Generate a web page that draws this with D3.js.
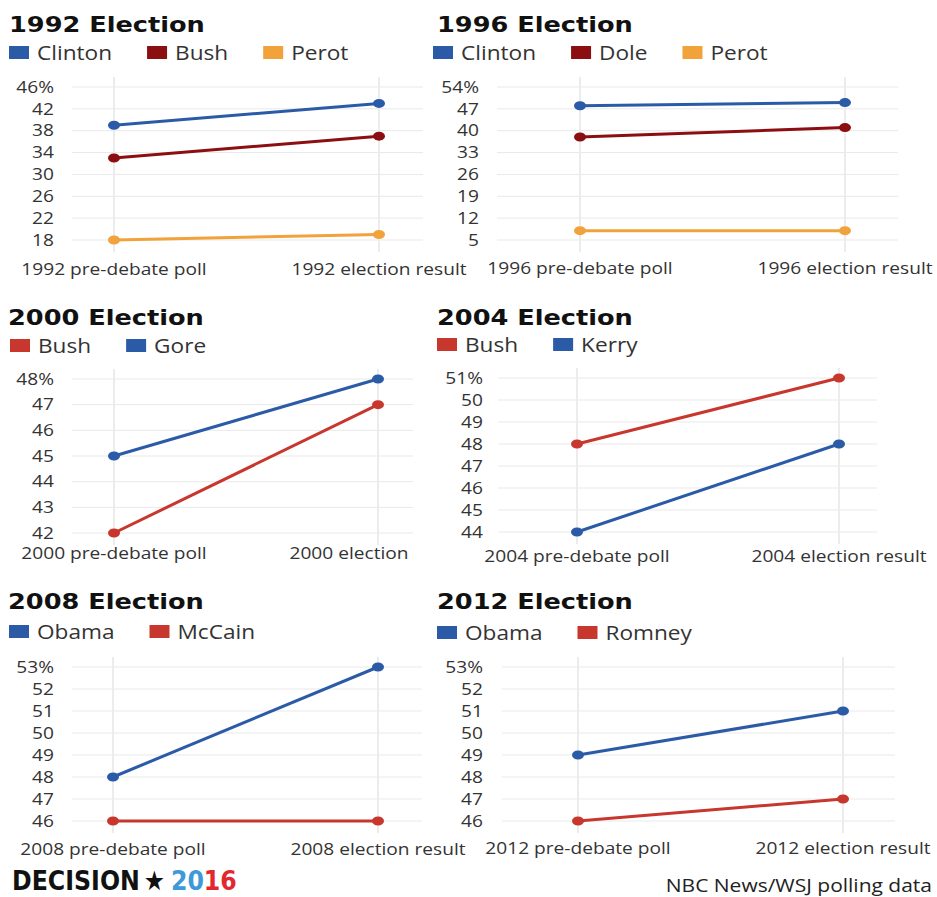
<!DOCTYPE html>
<html>
<head>
<meta charset="utf-8">
<script src="https://cdn.jsdelivr.net/npm/d3@7"></script>
<style>
body { margin: 0; background: #fff; }
svg { display: block; }
.title { font-family: "DejaVu Sans"; font-weight: bold; font-size: 20.5px; fill: #111; }
.legend { font-family: "Open Sans"; font-size: 19.5px; fill: #333; }
.ytick { font-family: "Open Sans"; font-size: 16.5px; fill: #333; }
.xlabel { font-family: "Open Sans"; font-size: 16.5px; fill: #333; }
.source { font-family: "Open Sans"; font-size: 17.5px; fill: #222; }
.logo { font-family: "DejaVu Sans", sans-serif; font-stretch: condensed; font-weight: bold; font-size: 27px; }
</style>
</head>
<body>
<svg width="937" height="897"></svg>
<script>

// ---- data ----
var titles = ["1992 Election", "1996 Election", "2000 Election", "2004 Election", "2008 Election", "2012 Election"];

var candidates1992 = ["Clinton", "Bush", "Perot"];
var poll1992 = [39, 33, 18];
var result1992 = [43, 37, 19];
var yTicks1992 = [18, 22, 26, 30, 34, 38, 42, 46];
var xLabels1992 = ["1992 pre-debate poll", "1992 election result"];

var candidates1996 = ["Clinton", "Dole", "Perot"];
var poll1996 = [48, 38, 8];
var result1996 = [49, 41, 8];
var yTicks1996 = [5, 12, 19, 26, 33, 40, 47, 54];
var xLabels1996 = ["1996 pre-debate poll", "1996 election result"];

var candidates2000 = ["Bush", "Gore"];
var poll2000 = [42, 45];
var result2000 = [47, 48];
var yTicks2000 = [42, 43, 44, 45, 46, 47, 48];
var xLabels2000 = ["2000 pre-debate poll", "2000 election"];

var candidates2004 = ["Bush", "Kerry"];
var poll2004 = [48, 44];
var result2004 = [51, 48];
var yTicks2004 = [44, 45, 46, 47, 48, 49, 50, 51];
var xLabels2004 = ["2004 pre-debate poll", "2004 election result"];

var candidates2008 = ["Obama", "McCain"];
var poll2008 = [48, 46];
var result2008 = [53, 46];
var yTicks2008 = [46, 47, 48, 49, 50, 51, 52, 53];
var xLabels2008 = ["2008 pre-debate poll", "2008 election result"];

var candidates2012 = ["Obama", "Romney"];
var poll2012 = [49, 46];
var result2012 = [51, 47];
var yTicks2012 = [46, 47, 48, 49, 50, 51, 52, 53];
var xLabels2012 = ["2012 pre-debate poll", "2012 election result"];

var source = "NBC News/WSJ polling data";

// ---- styles ----
var BLUE = "#2b5ba7", DARK_RED = "#8b0f10", ORANGE = "#f2a23b", RED = "#c8372d";
var SX = 1.16;   // the reference type is set wide
var TX = 1.25;

var panels = [
  {title: titles[0], names: candidates1992, poll: poll1992, result: result1992, ticks: yTicks1992, xLabels: xLabels1992,
   colors: [BLUE, DARK_RED, ORANGE], titleX: 9, titleY: 32, legendX: 9, legendY: 46,
   tickRight: 54, gridX: [72, 423], cols: [114, 379], yRange: [240, 87], labelY: 269},
  {title: titles[1], names: candidates1996, poll: poll1996, result: result1996, ticks: yTicks1996, xLabels: xLabels1996,
   colors: [BLUE, DARK_RED, ORANGE], titleX: 437, titleY: 32, legendX: 433, legendY: 46,
   tickRight: 479, gridX: [497, 898], cols: [580, 845], yRange: [240, 87], labelY: 268},
  {title: titles[2], names: candidates2000, poll: poll2000, result: result2000, ticks: yTicks2000, xLabels: xLabels2000,
   colors: [RED, BLUE], titleX: 8, titleY: 325, legendX: 10, legendY: 339,
   tickRight: 54, gridX: [72, 413], cols: [114, 378], yRange: [533, 379], labelY: 553, xShift: [0, -29]},
  {title: titles[3], names: candidates2004, poll: poll2004, result: result2004, ticks: yTicks2004, xLabels: xLabels2004,
   colors: [RED, BLUE], titleX: 437, titleY: 325, legendX: 437, legendY: 338,
   tickRight: 483, gridX: [498, 877], cols: [577, 839], yRange: [532, 378], labelY: 556},
  {title: titles[4], names: candidates2008, poll: poll2008, result: result2008, ticks: yTicks2008, xLabels: xLabels2008,
   colors: [BLUE, RED], titleX: 8, titleY: 609, legendX: 9, legendY: 625,
   tickRight: 54, gridX: [72, 422], cols: [113, 378], yRange: [821, 667], labelY: 849},
  {title: titles[5], names: candidates2012, poll: poll2012, result: result2012, ticks: yTicks2012, xLabels: xLabels2012,
   colors: [BLUE, RED], titleX: 437, titleY: 609, legendX: 437, legendY: 626,
   tickRight: 483, gridX: [502, 895], cols: [578, 843], yRange: [821, 667], labelY: 848}
];

var svg = d3.select("svg");

panels.forEach(drawPanel);

function drawPanel(p) {
  var g = svg.append("g");
  var top = d3.max(p.ticks);

  var y = d3.scaleLinear().domain(d3.extent(p.ticks)).range(p.yRange);
  var x = d3.scalePoint().domain(p.xLabels).range(p.cols);

  // grid
  g.append("g").selectAll("line").data(p.ticks).join("line")
      .attr("x1", p.gridX[0]).attr("x2", p.gridX[1])
      .attr("y1", function(d) { return y(d); }).attr("y2", function(d) { return y(d); })
      .attr("stroke", "#e9e9e9");

  g.append("g").selectAll("line").data(p.xLabels).join("line")
      .attr("x1", function(d) { return x(d); }).attr("x2", function(d) { return x(d); })
      .attr("y1", y(top) - 10).attr("y2", y(d3.min(p.ticks)) + 12)
      .attr("stroke", "#ececec").attr("stroke-width", 2);

  // y axis, labels only
  var ax = g.append("g")
      .attr("transform", "translate(" + p.tickRight + ",0)")
      .call(d3.axisLeft(y).tickValues(p.ticks).tickSize(0).tickPadding(0)
        .tickFormat(function(d) { return d === top ? d + "%" : d; }));
  ax.select(".domain").remove();
  ax.attr("font-size", null).attr("font-family", null);
  ax.selectAll("text").attr("class", "ytick").attr("transform", "scale(" + SX + ",1)");

  // x labels
  g.append("g").selectAll("text").data(p.xLabels).join("text")
      .attr("class", "xlabel")
      .attr("text-anchor", "middle")
      .attr("dy", "0.35em")
      .attr("transform", function(d, i) {
        var dx = p.xShift ? p.xShift[i] : 0;
        return "translate(" + (x(d) + dx) + "," + p.labelY + ") scale(" + SX + ",1)";
      })
      .text(function(d) { return d; });

  // series
  var series = p.names.map(function(name, i) {
    return {name: name, color: p.colors[i], values: [p.poll[i], p.result[i]]};
  });

  var line = d3.line()
      .x(function(d, j) { return x(p.xLabels[j]); })
      .y(function(d) { return y(d); });

  var s = g.append("g").selectAll("g").data(series).join("g");
  s.append("path")
      .attr("d", function(d) { return line(d.values); })
      .attr("fill", "none")
      .attr("stroke", function(d) { return d.color; })
      .attr("stroke-width", 3);
  s.selectAll("ellipse").data(function(d) { return d.values.map(function(v) { return {v: v, color: d.color}; }); })
    .join("ellipse")
      .attr("cx", function(d, j) { return x(p.xLabels[j]); })
      .attr("cy", function(d) { return y(d.v); })
      .attr("rx", 6).attr("ry", 4.5)
      .attr("fill", function(d) { return d.color; });

  // title
  g.append("text")
      .attr("class", "title")
      .attr("transform", "translate(" + p.titleX + "," + p.titleY + ") scale(" + TX + ",1)")
      .text(p.title);

  // legend
  var lx = p.legendX;
  series.forEach(function(d) {
    g.append("rect")
        .attr("x", lx).attr("y", p.legendY)
        .attr("width", 20).attr("height", 13)
        .attr("fill", d.color);
    var t = g.append("text")
        .attr("class", "legend")
        .attr("transform", "translate(" + (lx + 28) + "," + (p.legendY + 14) + ") scale(" + SX + ",1)")
        .text(d.name);
    lx += 28 + t.node().getComputedTextLength() * SX + 35;
  });
}

// footer logo, squeezed to the width it has in the reference
var logoG = svg.append("g");
var logo = logoG.append("text").attr("class", "logo");
logo.append("tspan").attr("fill", "#111").text("DECISION");
logo.append("tspan").attr("fill", "#111").attr("dx", 4).text("\u2605");
logo.append("tspan").attr("fill", "#3d9ad8").attr("dx", 6).text("20");
logo.append("tspan").attr("fill", "#e2282e").text("16");
var lw = logo.node().getBBox().width;
logoG.attr("transform", "translate(12,890) scale(" + (225 / lw) + ",1)");

svg.append("text")
    .attr("class", "source")
    .attr("text-anchor", "end")
    .attr("transform", "translate(932,892) scale(" + 1.2 + ",1)")
    .text(source);

</script>
</body>
</html>
